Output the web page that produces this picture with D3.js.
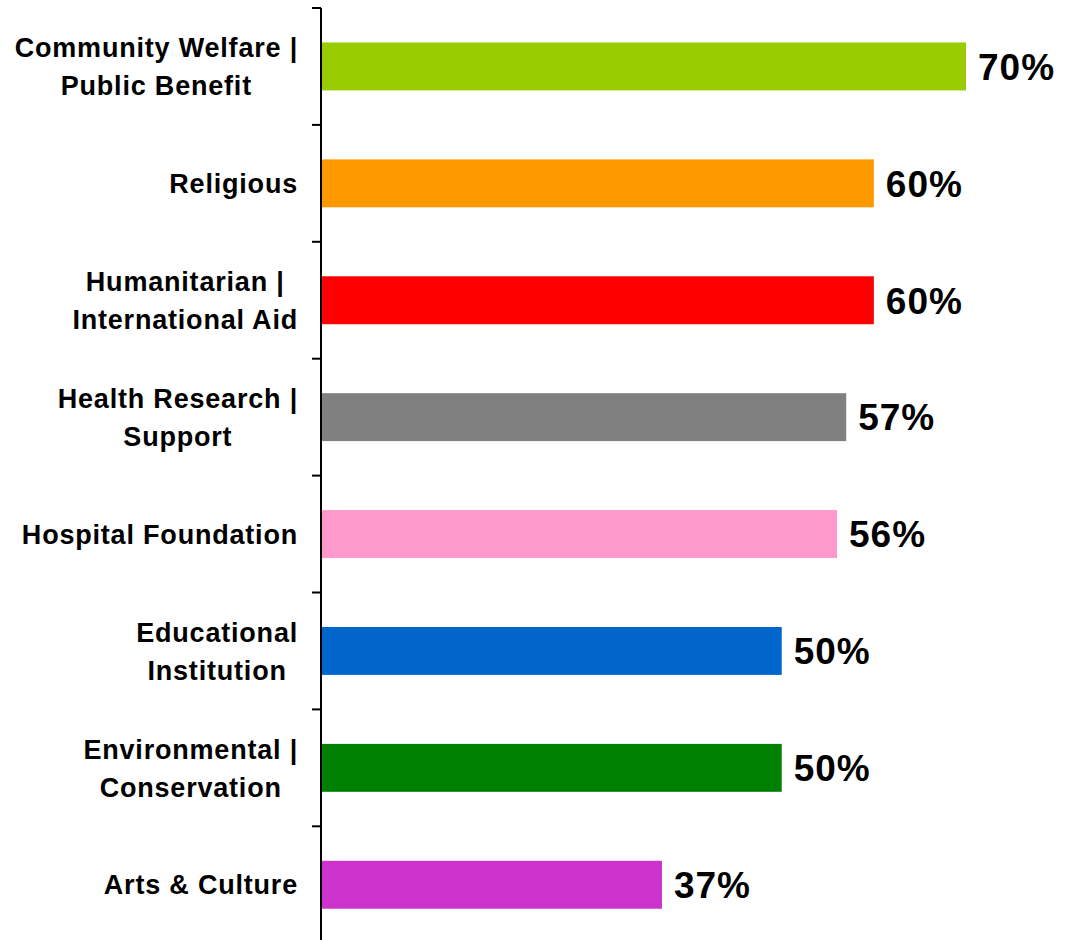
<!DOCTYPE html>
<html>
<head>
<meta charset="utf-8">
<script src="https://cdn.jsdelivr.net/npm/d3@7"></script>
<style>
  html, body { margin: 0; padding: 0; background: #fff; }
  svg { display: block; }
  text { font-family: "Liberation Sans", Arial, sans-serif; font-weight: bold; fill: #000; }
</style>
</head>
<body>
<svg id="chart" width="1073" height="940"></svg>
<script>
// Share of donors by charity type
const categories = [
  ["Community Welfare |", "Public Benefit"],
  ["Religious"],
  ["Humanitarian |", "International Aid"],
  ["Health Research |", "Support"],
  ["Hospital Foundation"],
  ["Educational", "Institution"],
  ["Environmental |", "Conservation"],
  ["Arts & Culture"]
];
const values = [70, 60, 60, 57, 56, 50, 50, 37];
const colors = ["#99CC00", "#FF9900", "#FF0000", "#808080", "#FF99CC", "#0066CC", "#008000", "#CC33CC"];

const svg = d3.select("#chart");
const axisX = 321;
const plotTop = 8, bandStep = 116.9;

const keys = categories.map((c, i) => i);
const y = d3.scaleBand()
  .domain(keys)
  .range([plotTop, plotTop + bandStep * keys.length])
  .paddingInner(0.59)
  .paddingOuter(0.295);

const x = d3.scaleLinear().domain([0, 70]).range([axisX, 966]);

// bars
svg.append("g").selectAll("rect")
  .data(values)
  .join("rect")
  .attr("x", x(0))
  .attr("y", (d, i) => y(i))
  .attr("width", d => x(d) - x(0))
  .attr("height", y.bandwidth())
  .attr("fill", (d, i) => colors[i]);

// value labels
svg.append("g").selectAll("text")
  .data(values)
  .join("text")
  .attr("x", d => x(d) + 12)
  .attr("y", (d, i) => y(i) + y.bandwidth() / 2)
  .attr("dy", "0.36em")
  .style("font-size", "37px")
  .style("letter-spacing", "1px")
  .text(d => d + "%");

// vertical axis with category-boundary ticks
const axis = svg.append("g");
axis.append("line")
  .attr("x1", axisX).attr("x2", axisX)
  .attr("y1", plotTop).attr("y2", 940)
  .attr("stroke", "#000").attr("stroke-width", 2);
axis.selectAll("line.tick")
  .data(d3.range(keys.length))
  .join("line")
  .attr("class", "tick")
  .attr("x1", axisX - 9).attr("x2", axisX)
  .attr("y1", i => plotTop + i * bandStep)
  .attr("y2", i => plotTop + i * bandStep)
  .attr("stroke", "#000").attr("stroke-width", 2);

// category labels
const lineH = 38;
const labels = svg.append("g").selectAll("text")
  .data(categories)
  .join("text")
  .attr("text-anchor", "middle")
  .style("font-size", "27px")
  .style("letter-spacing", "0.8px")
  .attr("transform", (d, i) => `translate(0,${y(i) + y.bandwidth() / 2})`);

labels.each(function(lines) {
  const t = d3.select(this);
  const n = lines.length;
  lines.forEach((ln, k) => {
    t.append("tspan")
      .attr("x", 0)
      .attr("y", (k - (n - 1) / 2) * lineH)
      .attr("dy", "0.36em")
      .text(ln);
  });
});

// right-align each label block at the axis, centring lines within it
labels.each(function() {
  const t = d3.select(this);
  const w = this.getBBox().width;
  t.selectAll("tspan").attr("x", 298 - w / 2);
});
</script>
</body>
</html>
